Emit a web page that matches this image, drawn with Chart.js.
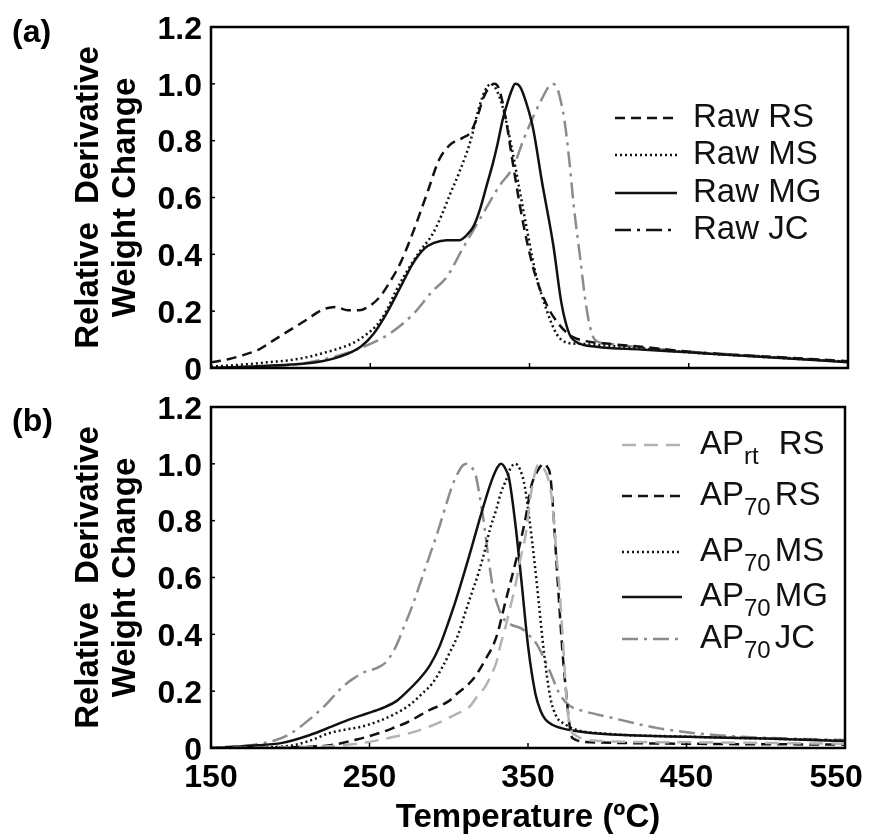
<!DOCTYPE html>
<html>
<head>
<meta charset="utf-8">
<script src="https://cdn.jsdelivr.net/npm/chart.js@4"></script>
<style>
  body { margin: 0; background: #fff; }
  canvas { position: absolute; left: 0; }
</style>
</head>
<body>
<canvas id="chart-a" width="870" height="380" style="top:0"></canvas>
<canvas id="chart-b" width="870" height="460" style="top:380px"></canvas>
<script>
// tick values
const xTicks = [150, 250, 350, 450, 550];
const yTicks = [0, 0.2, 0.4, 0.6, 0.8, 1.0, 1.2];

// legend names
const rawNames = ['Raw RS', 'Raw MS', 'Raw MG', 'Raw JC'];
const apNames = [['AP', 'rt', 'RS'], ['AP', '70', 'RS'], ['AP', '70', 'MS'], ['AP', '70', 'MG'], ['AP', '70', 'JC']];

// panel (a): [temperature, relative derivative weight change]
const rawRS = [[150,0.02],[160,0.03],[170,0.045],[180,0.065],[190,0.1],[200,0.135],[210,0.17],[220,0.205],[228,0.215],[236,0.203],[243,0.203],[250,0.22],[256,0.25],[262,0.3],[269,0.37],[277,0.48],[286,0.62],[293,0.73],[300,0.785],[308,0.81],[313,0.83],[317,0.88],[321,0.95],[325,0.99],[328,1.0],[331,0.98],[335,0.88],[339,0.74],[344,0.57],[349,0.43],[354,0.32],[361,0.22],[369,0.15],[377,0.11],[385,0.095],[400,0.085],[420,0.075],[450,0.057],[480,0.046],[510,0.037],[550,0.024]];
const rawMS = [[150,0.005],[170,0.012],[185,0.02],[200,0.028],[212,0.04],[222,0.055],[231,0.07],[240,0.09],[248,0.12],[254,0.15],[260,0.2],[266,0.27],[273,0.34],[281,0.41],[289,0.47],[295,0.54],[300,0.61],[306,0.69],[313,0.8],[318,0.91],[322,0.975],[326,1.0],[330,0.97],[334,0.9],[339,0.77],[344,0.62],[349,0.47],[354,0.33],[361,0.2],[367,0.12],[373,0.09],[382,0.085],[400,0.078],[450,0.055],[500,0.038],[550,0.022]];
const rawMG = [[150,0],[175,0.005],[200,0.012],[216,0.02],[231,0.04],[244,0.075],[252,0.12],[260,0.19],[269,0.285],[277,0.37],[284,0.42],[290,0.44],[298,0.45],[306,0.45],[311,0.47],[315,0.5],[319,0.56],[323,0.64],[327,0.72],[330,0.79],[333,0.87],[336,0.93],[339,0.98],[341,1.0],[344,0.99],[347,0.95],[352,0.85],[358,0.65],[365,0.43],[370,0.23],[375,0.12],[380,0.09],[392,0.075],[420,0.065],[450,0.055],[500,0.038],[550,0.02]];
const rawJC = [[150,0],[180,0.003],[206,0.015],[220,0.03],[231,0.045],[248,0.08],[262,0.12],[277,0.19],[289,0.27],[298,0.32],[308,0.42],[321,0.545],[331,0.64],[340,0.71],[346,0.8],[352,0.88],[358,0.95],[362,0.99],[364,1.0],[367,0.99],[370,0.93],[372,0.87],[375,0.73],[378,0.56],[382,0.38],[385,0.24],[388,0.145],[391,0.1],[400,0.085],[420,0.072],[450,0.058],[500,0.04],[550,0.022]];

// panel (b)
const apRtRS = [[150,0],[200,0.003],[230,0.008],[246,0.018],[262,0.035],[277,0.055],[290,0.08],[298,0.1],[305,0.12],[313,0.145],[319,0.19],[323,0.215],[327,0.26],[330,0.3],[333,0.37],[336,0.43],[339,0.5],[342,0.57],[345,0.66],[348.5,0.75],[352,0.9],[355,0.98],[357,1.0],[359,0.99],[362,0.96],[365,0.88],[368,0.68],[370,0.55],[372,0.38],[374,0.2],[376,0.09],[380,0.045],[395,0.025],[450,0.02],[550,0.015]];
const ap70RS = [[150,0],[200,0.003],[225,0.01],[242,0.03],[258,0.056],[267,0.075],[273,0.088],[288,0.134],[300,0.165],[305,0.19],[315,0.24],[323,0.31],[330,0.39],[336,0.52],[342,0.65],[348.5,0.81],[352,0.92],[356,0.975],[360,1.0],[362,0.99],[364,0.96],[366,0.83],[368,0.65],[370,0.48],[372,0.32],[374,0.2],[376,0.09],[378,0.035],[390,0.02],[450,0.015],[550,0.012]];
const ap70MS = [[150,0],[185,0.003],[200,0.008],[212,0.025],[225,0.053],[235,0.065],[245,0.075],[256,0.095],[266,0.12],[275,0.15],[283,0.19],[290,0.23],[296,0.285],[301,0.34],[306,0.4],[310,0.47],[314.5,0.545],[319,0.62],[323,0.7],[326,0.77],[330,0.84],[333,0.9],[336,0.94],[339,0.985],[342,1.0],[345,0.98],[348,0.92],[351,0.8],[354,0.66],[357,0.5],[360,0.34],[364,0.18],[368,0.11],[373,0.085],[380,0.065],[400,0.05],[450,0.04],[500,0.033],[550,0.026]];
const ap70MG = [[150,0],[175,0.008],[195,0.018],[212,0.045],[226,0.075],[237,0.1],[245,0.115],[252,0.128],[260,0.145],[267,0.165],[274,0.2],[281,0.24],[288,0.29],[294,0.355],[299,0.43],[304.5,0.52],[312.6,0.67],[320.8,0.83],[327,0.94],[331,0.99],[333,1.0],[336,0.98],[338,0.95],[342,0.79],[346,0.58],[350,0.36],[354.7,0.19],[358,0.13],[361,0.1],[366,0.08],[371,0.07],[380,0.06],[400,0.048],[450,0.04],[500,0.033],[550,0.025]];
const ap70JC = [[150,0],[175,0.01],[191,0.028],[200,0.05],[212,0.1],[222,0.15],[233,0.215],[240,0.245],[248,0.27],[254,0.28],[260,0.3],[266,0.35],[272,0.43],[277,0.5],[282,0.58],[287.5,0.67],[293,0.76],[298,0.85],[302,0.92],[306,0.97],[309,0.995],[311.4,1.0],[314,0.99],[317,0.96],[320,0.87],[322,0.8],[325,0.67],[328,0.56],[331,0.5],[334,0.46],[339,0.435],[346,0.42],[350,0.4],[355,0.37],[363,0.28],[370,0.19],[376,0.15],[382,0.135],[400,0.11],[432,0.07],[463,0.048],[495,0.037],[550,0.028]];

const FONT = "'Liberation Sans', Arial, Helvetica, sans-serif";
const BLACK = '#111';
const GRAY = '#8c8c8c';
const LIGHT = '#b3b3b3';
const DASHED = [10, 6];
const DOTTED = [2, 3];
const DASHDOT = [16, 6, 3, 6];
const LONGDASH = [14, 8];

function pts(arr) {
    return arr.map(p => ({ x: p[0], y: p[1] }));
}

function series(label, arr, color, dash, extra) {
    return Object.assign({
        label: label,
        data: pts(arr),
        borderColor: color,
        borderDash: dash,
        borderWidth: 2.5,
        pointRadius: 0,
        fill: false,
        cubicInterpolationMode: 'monotone',
    }, extra || {});
}

// frame, inward ticks, panel tag and legend
const panelDeco = {
    id: 'panelDeco',
    afterDatasetsDraw(chart, args, opts) {
        const { ctx, chartArea: a, scales } = chart;
        ctx.save();
        ctx.strokeStyle = '#000';
        ctx.setLineDash([]);
        ctx.lineWidth = 1.5;
        yTicks.slice(1, -1).forEach(v => {
            const y = scales.y.getPixelForValue(v);
            ctx.beginPath(); ctx.moveTo(a.left, y); ctx.lineTo(a.left + 4, y); ctx.stroke();
        });
        xTicks.slice(1, -1).forEach(v => {
            const x = scales.x.getPixelForValue(v);
            ctx.beginPath(); ctx.moveTo(x, a.bottom); ctx.lineTo(x, a.bottom - 5); ctx.stroke();
        });
        ctx.lineWidth = 2.5;
        ctx.strokeRect(a.left, a.top, a.right - a.left, a.bottom - a.top);

        ctx.fillStyle = '#000';
        ctx.textBaseline = 'middle';
        ctx.font = 'bold 32px ' + FONT;
        ctx.fillText(opts.tag, 12, opts.tagY);

        chart.data.datasets.forEach((ds, i) => {
            const y = opts.rowY[i];
            ctx.strokeStyle = ds.legendColor || ds.borderColor;
            ctx.lineWidth = 2.5;
            ctx.setLineDash(ds.borderDash || []);
            ctx.beginPath(); ctx.moveTo(opts.lineX[0], y); ctx.lineTo(opts.lineX[1], y); ctx.stroke();
            ctx.setLineDash([]);
            ctx.fillStyle = BLACK;
            let x = opts.textX;
            const parts = ds.parts || [ds.label];
            ctx.font = '33px ' + FONT;
            ctx.fillText(parts[0], x, y);
            x += ctx.measureText(parts[0]).width;
            if (parts.length > 1) {
                ctx.font = '24px ' + FONT;
                ctx.fillText(parts[1], x, y + 12);
                x += ctx.measureText(parts[1]).width + (parts[1] === 'rt' ? 20 : 4);
                ctx.font = '33px ' + FONT;
                ctx.fillText(parts[2], x, y);
            }
        });
        ctx.restore();
    }
};

function yScale() {
    return {
        min: 0,
        max: 1.2,
        afterBuildTicks: s => { s.ticks = yTicks.map(v => ({ value: v })); },
        afterFit: s => { s.width = 211; s.paddingTop = 0; s.paddingBottom = 0; },
        grid: { display: false, drawTicks: false },
        border: { display: false },
        ticks: {
            padding: 9,
            labelOffset: 3,
            color: '#000',
            font: { family: FONT, size: 32, weight: 'bold' },
            callback: v => v === 0 ? '0' : v.toFixed(1),
        },
        title: {
            display: true,
            text: ['Relative  Derivative', 'Weight Change'],
            color: '#000',
            font: { family: FONT, size: 33, weight: 'bold', lineHeight: 1.12 },
            padding: { top: 70, bottom: 0 },
        },
    };
}

function xScale(withLabels) {
    const s = {
        type: 'linear',
        min: 150,
        max: 550,
        afterBuildTicks: sc => { sc.ticks = xTicks.map(v => ({ value: v })); },
        grid: { display: false, drawTicks: false },
        border: { display: false },
    };
    if (withLabels) {
        s.afterFit = sc => { sc.height = 92; sc.paddingLeft = 0; sc.paddingRight = 25; };
        s.ticks = {
            padding: 11,
            color: '#000',
            maxRotation: 0,
            font: { family: FONT, size: 32, weight: 'bold' },
            // last label sits a little inside the right edge, as in the figure
            callback: v => v === xTicks[xTicks.length - 1] ? v + '  ' : String(v),
        };
        s.title = {
            display: true,
            text: 'Temperature (ºC)',
            color: '#000',
            font: { family: FONT, size: 33, weight: 'bold', lineHeight: 1.2 },
            padding: { top: 0, bottom: 2 },
        };
    } else {
        s.afterFit = sc => { sc.height = 12; sc.paddingLeft = 0; sc.paddingRight = 0; };
        s.ticks = { display: false };
    }
    return s;
}

function baseOptions(withLabels, deco) {
    return {
        responsive: false,
        animation: false,
        devicePixelRatio: 1,
        layout: { padding: { top: 27, right: 22, left: 0, bottom: 0 } },
        scales: { x: xScale(withLabels), y: yScale() },
        plugins: { legend: { display: false }, tooltip: { enabled: false }, panelDeco: deco },
    };
}

new Chart(document.getElementById('chart-a').getContext('2d'), {
    type: 'line',
    data: {
        datasets: [
            series(rawNames[0], rawRS, BLACK, DASHED),
            series(rawNames[1], rawMS, BLACK, DOTTED),
            series(rawNames[2], rawMG, BLACK, []),
            series(rawNames[3], rawJC, GRAY, DASHDOT, { legendColor: BLACK }),
        ]
    },
    options: baseOptions(false, { tag: '(a)', tagY: 33, rowY: [118, 155, 193, 230], lineX: [615, 677], textX: 693 }),
    plugins: [panelDeco],
});

new Chart(document.getElementById('chart-b').getContext('2d'), {
    type: 'line',
    data: {
        datasets: [
            series(apNames[0].join(''), apRtRS, LIGHT, LONGDASH, { parts: apNames[0] }),
            series(apNames[1].join(''), ap70RS, BLACK, DASHED, { parts: apNames[1] }),
            series(apNames[2].join(''), ap70MS, BLACK, DOTTED, { parts: apNames[2] }),
            series(apNames[3].join(''), ap70MG, BLACK, [], { parts: apNames[3] }),
            series(apNames[4].join(''), ap70JC, GRAY, DASHDOT, { parts: apNames[4] }),
        ]
    },
    options: baseOptions(true, { tag: '(b)', tagY: 42, rowY: [65, 116, 172, 217, 259], lineX: [622, 682], textX: 700 }),
    plugins: [panelDeco],
});
</script>
</body>
</html>
